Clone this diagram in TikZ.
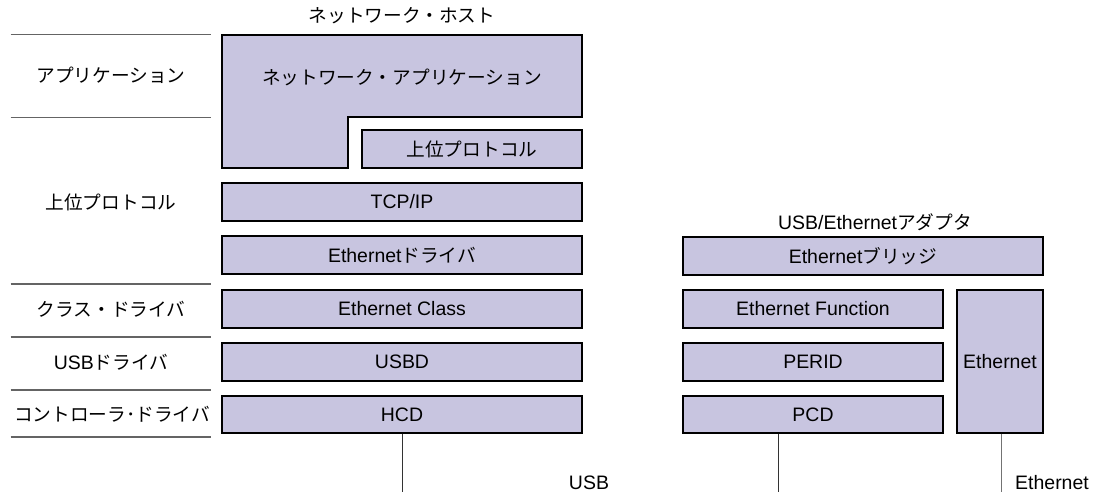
\documentclass[tikz,border=0pt]{standalone}
\usepackage{fontspec}
\setmainfont{Liberation Sans}
\newfontfamily\jp{Noto Sans CJK JP}[Scale=0.96]
\definecolor{layerfill}{RGB}{200,197,224}
\definecolor{sepgray}{RGB}{100,100,100}
\tikzset{
  txt/.style={font=\fontsize{14.6}{16}\selectfont},
  wh/.style 2 args={minimum width=#1*0.75pt, minimum height=#2*0.75pt},
  layer/.style={txt, draw=black, line width=0.9pt, fill=layerfill, inner sep=0pt, anchor=center},
  lbl/.style={txt, inner sep=0pt},
  sepline/.style={draw=sepgray, line width=0.8pt},
  wire/.style={draw=black!80, line width=0.75pt},
  ethwire/.style={draw=black!55, line width=0.75pt},
}
\begin{document}
\begin{tikzpicture}[x=0.75pt,y=-0.75pt]
\useasboundingbox (0,0) rectangle (1098,492);

% ---- host stack ----
\node[lbl] (hosttitle) at (402,16) {\jp ネットワーク・ホスト};

\path[layer] (222,35) -- (582,35) -- (582,117) -- (348,117)
  -- (348,168) -- (222,168) -- cycle;
\node[lbl] (netapp) at (402,77) {\jp ネットワーク・アプリケーション};

\node[layer, wh={220}{38}] (upper)    at (472,149)   {\jp 上位プロトコル};
\node[layer, wh={360}{38}] (tcp)      at (402,202)   {TCP/IP};
\node[layer, wh={360}{38}] (ethdrv)   at (402,255)   {Ethernet\jp ドライバ};
\node[layer, wh={360}{38}] (ethclass) at (402,309)   {Ethernet Class};
\node[layer, wh={360}{38}] (usbd)     at (402,362)   {USBD};
\node[layer, wh={360}{37}] (hcd)      at (402,414.5) {HCD};

% ---- layer names on the left ----
\foreach \yy in {34.5,117.5,284,337,390,437}
  \draw[sepline] (10.5,\yy) -- (211,\yy);
\node[lbl] (lapp)   at (111,75)    {\jp アプリケーション};
\node[lbl] (lproto) at (111,202)   {\jp 上位プロトコル};
\node[lbl] (lclass) at (111,309.5) {\jp クラス・ドライバ};
\node[lbl] (lusbd)  at (111,362)   {USB\jp ドライバ};
\node[lbl] (lhcd)   at (112,414.5) {\jp コントローラ･ドライバ};

% ---- adapter stack ----
\node[lbl] (adtitle) at (875,222) {USB/Ethernet\jp アダプタ};
\node[layer, wh={360}{38}]  (bridge)  at (863,256)   {Ethernet\jp ブリッジ};
\node[layer, wh={260}{38}]  (ethfunc) at (813,309)   {Ethernet Function};
\node[layer, wh={260}{38}]  (perid)   at (813,362)   {PERID};
\node[layer, wh={260}{37}]  (pcd)     at (813,414.5) {PCD};
\node[layer, wh={86}{143}]  (ethphy)  at (1000,361.5) {Ethernet};

% ---- buses ----
\coordinate (hostbus) at (402.5,492);
\coordinate (devbus) at (778,492);
\coordinate (lanbus) at (1001,492);
\draw[wire] (hostbus |- hcd.south) -- (hostbus);
\draw[wire] (devbus |- pcd.south) -- (devbus);
\draw[ethwire] (lanbus |- ethphy.south) -- (lanbus);
\node[lbl] (usblabel) at (589,483) {USB};
\node[lbl] (ethlabel) at (1052,483) {Ethernet};
\end{tikzpicture}
\end{document}
